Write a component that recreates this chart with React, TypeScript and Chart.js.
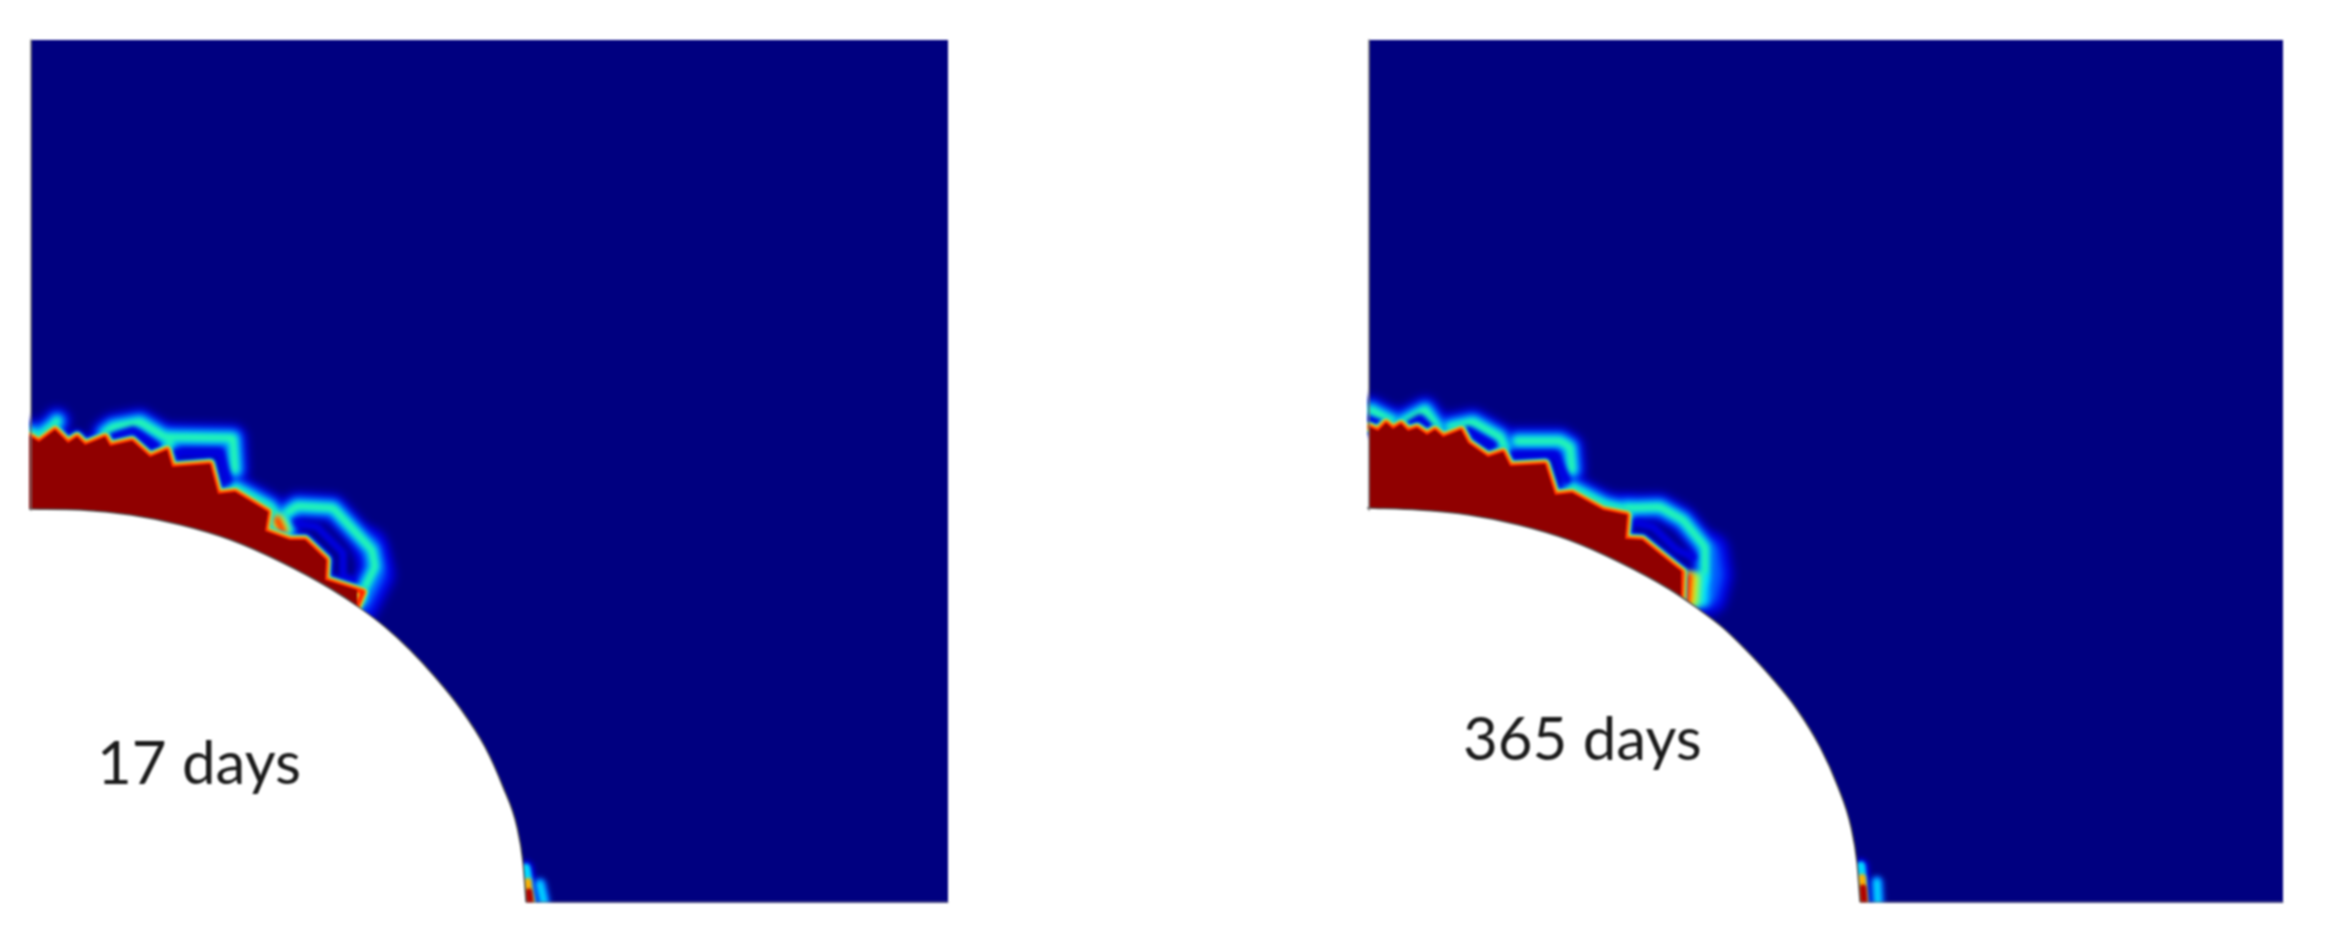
import React, { useEffect, useRef } from "react";
import { Chart, registerables } from "chart.js";

Chart.register(...registerables);

type Pt = [number, number];

const labelLeft = "17 days";
const labelRight = "365 days";

// ---------- 17 days: values (image units)
const field17: Pt[] = [[31, 40], [948, 40]];
const edgeLeft17: Pt[] = [[31, 40], [31, 510]];
const edgeBottom17: Pt[] = [[526, 902], [948, 902]];
const hole17: Pt[] = [[29, 509], [81, 510], [131, 515], [181, 525], [231, 540], [281, 562], [331, 589], [360, 608], [385, 627], [410, 650], [435, 677], [460, 708], [485, 747], [503, 787], [517, 827], [523, 863], [526, 902]];
const damage17: Pt[] = [[29, 436], [39, 442], [55, 430], [68, 443], [77, 437], [85, 445], [105, 437], [110, 446], [132, 441], [150, 457], [167, 450], [172, 467], [210, 464], [218, 494], [235, 492], [268, 512], [265, 531], [290, 540], [305, 540], [326, 560], [325, 580], [363, 592], [357, 606], [357, 640]];
const ribbons17: Pt[][] = [
  [[31, 433], [39, 437], [55, 424], [57, 421]],
  [[105, 433], [113, 427], [140, 422], [165, 437], [233, 438], [235, 470]],
  [[170, 441], [167, 450]],
  [[287, 513], [297, 506], [333, 508], [372, 550], [375, 567], [360, 597]],
  [[235, 488], [270, 507], [287, 530]],
];
const gaps17: Pt[][] = [
  [[112, 437], [133, 430], [157, 447]],
  [[175, 453], [220, 453], [228, 480]],
  [[295, 523], [317, 527], [343, 553], [343, 577], [352, 580]],
];
const halo17: Pt[][] = [[[370, 545], [378, 575], [362, 606]]];
const tip17: Pt[][] = [[[276, 517], [284, 534]], [[353, 597], [358, 605]]];
const cornerStrip17: Pt[] = [[526, 868], [532, 902]];
const cornerHot17: Pt[] = [[528, 882], [531, 902]];
const cornerCore17: Pt[] = [[529, 892], [530, 902]];
const cornerRibbon17: Pt[] = [[540, 884], [544, 902]];

// ---------- 365 days
const field365: Pt[] = [[1369, 40], [2283, 40]];
const edgeLeft365: Pt[] = [[1369, 40], [1369, 510]];
const edgeBottom365: Pt[] = [[1860, 902], [2283, 902]];
const hole365: Pt[] = [[1367, 508], [1419, 510], [1469, 515], [1519, 525], [1569, 540], [1619, 562], [1669, 589], [1697, 608], [1722, 627], [1746, 650], [1771, 677], [1796, 708], [1820, 747], [1838, 787], [1851, 827], [1857, 863], [1860, 902]];
const damage365: Pt[] = [[1369, 427], [1378, 431], [1386, 423], [1393, 429], [1401, 424], [1408, 431], [1417, 428], [1427, 435], [1435, 430], [1443, 437], [1461, 430], [1468, 443], [1488, 457], [1503, 452], [1510, 466], [1545, 464], [1555, 495], [1572, 493], [1603, 510], [1627, 515], [1625, 539], [1642, 540], [1673, 565], [1682, 572], [1681, 600], [1681, 640]];
const ribbons365: Pt[][] = [
  [[1371, 410], [1380, 415], [1392, 421]],
  [[1403, 422], [1425, 410], [1438, 428]],
  [[1450, 427], [1473, 422], [1500, 437], [1505, 448]],
  [[1517, 441], [1560, 441], [1570, 447], [1572, 470]],
  [[1628, 508], [1660, 507], [1683, 520], [1705, 547], [1705, 572], [1693, 597]],
  [[1572, 488], [1605, 505], [1627, 510]],
];
const gaps365: Pt[][] = [
  [[1369, 420], [1381, 424]],
  [[1410, 424], [1420, 418], [1430, 428]],
  [[1468, 430], [1493, 445]],
  [[1513, 455], [1555, 455], [1567, 480]],
  [[1637, 523], [1653, 527], [1677, 550], [1693, 557]],
];
const halo365: Pt[][] = [[[1712, 550], [1716, 575], [1710, 598], [1695, 600]]];
const tip365: Pt[][] = [[[1686, 573], [1684, 605]]];
const cornerStrip365: Pt[] = [[1861, 866], [1864, 902]];
const cornerHot365: Pt[] = [[1862, 878], [1864, 902]];
const cornerCore365: Pt[] = [[1863, 888], [1864, 902]];
const cornerRibbon365: Pt[] = [[1877, 882], [1878, 902]];

const NAVY = "#000080";
const DEEP_RED = "#900000";

interface PanelData {
  field: Pt[]; edgeLeft: Pt[]; edgeBottom: Pt[]; hole: Pt[]; damage: Pt[];
  ribbons: Pt[][]; gaps: Pt[][]; halo: Pt[][]; tip: Pt[][]; tipScale: number;
  strip: Pt[]; hot: Pt[]; core: Pt[]; cornerRibbon: Pt[];
  xMin: number; xMax: number; yMin: number; yMax: number;
}

const panel17: PanelData = {
  field: field17, edgeLeft: edgeLeft17, edgeBottom: edgeBottom17, hole: hole17, damage: damage17,
  ribbons: ribbons17, gaps: gaps17, halo: halo17, tip: tip17, tipScale: 0.45,
  strip: cornerStrip17, hot: cornerHot17, core: cornerCore17, cornerRibbon: cornerRibbon17,
  xMin: 29, xMax: 949, yMin: 38, yMax: 903,
};
const panel365: PanelData = {
  field: field365, edgeLeft: edgeLeft365, edgeBottom: edgeBottom365, hole: hole365, damage: damage365,
  ribbons: ribbons365, gaps: gaps365, halo: halo365, tip: tip365, tipScale: 1,
  strip: cornerStrip365, hot: cornerHot365, core: cornerCore365, cornerRibbon: cornerRibbon365,
  xMin: 1367, xMax: 2284, yMin: 38, yMax: 903,
};

const toPts = (p: Pt[]) => p.map(([x, y]) => ({ x, y }));

function buildDatasets(d: PanelData) {
  const out: any[] = [];
  const stroke = (p: Pt[], color: string, width: number, blur: number, cap = "round") =>
    out.push({ data: toPts(p), showLine: true, pointRadius: 0, borderColor: color, borderWidth: width, borderJoinStyle: "round", borderCapStyle: cap, fill: false, blur });
  const area = (p: Pt[], color: string, lineColor: string, width: number, smooth = false) =>
    out.push({ data: toPts(p), showLine: true, pointRadius: 0, borderColor: lineColor, borderWidth: width, backgroundColor: color, fill: { value: d.yMax + 5 }, ...(smooth ? { cubicInterpolationMode: "monotone" } : {}) });

  area(d.field, NAVY, NAVY, 0);
  // outer blue halo
  d.ribbons.forEach((r) => stroke(r, "#0000e8", 28, 4));
  d.halo.forEach((r) => stroke(r, "#0000e8", 34, 5));
  stroke(d.damage, "#0000e8", 16, 2.5);
  d.ribbons.forEach((r) => stroke(r, "#0070ff", 18, 3.5));
  d.halo.forEach((r) => stroke(r, "#0060ff", 14, 4));
  d.ribbons.forEach((r) => stroke(r, "#00d8f0", 11, 3));
  d.ribbons.forEach((r) => stroke(r, "#30ffa0", 5, 2.5));
  // inner blue gaps between ribbons and damage front
  d.gaps.forEach((g) => stroke(g, "#0000e0", 8, 2));
  // hot tips
  const s = d.tipScale;
  d.tip.forEach((t) => stroke(t, "#00e0ff", 48 * s, 3, "butt"));
  d.tip.forEach((t) => stroke(t, "#60ff80", 32 * s, 3, "butt"));
  d.tip.forEach((t) => stroke(t, "#ffd800", 22 * s, 3, "butt"));
  d.tip.forEach((t) => stroke(t, "#ff2000", 12 * s, 2.5, "butt"));
  // damage front
  stroke(d.damage, "#00c8f0", 11, 1.5);
  stroke(d.damage, "#90ff60", 8.5, 1.2);
  stroke(d.damage, "#ffc000", 7, 1);
  stroke(d.damage, "#ff2000", 4.5, 1);
  area(d.damage, DEEP_RED, DEEP_RED, 0);
  // corner at the hole's foot
  stroke(d.strip, "#0000f0", 15, 2.5);
  stroke(d.strip, "#00d8ff", 9, 1.5);
  stroke(d.hot, "#ffb000", 8, 1.5);
  stroke(d.core, "#b00000", 7, 1);
  stroke(d.cornerRibbon, "#0060ff", 13, 2.5);
  stroke(d.cornerRibbon, "#00e0ff", 6, 2);
  // hole, edges
  area(d.hole, "#ffffff", "#555555", 1.5, true);
  stroke(d.edgeLeft, "#777777", 1.5, 0);
  stroke(d.edgeBottom, "#888888", 1.2, 0);
  return out.map((ds, i) => ({ ...ds, order: out.length - i }));
}

const blurPlugin = {
  id: "bandBlur",
  beforeDatasetDraw(chart: any, args: any) {
    const b = chart.data.datasets[args.index].blur;
    chart.ctx.save();
    if (b) chart.ctx.filter = `blur(${b}px)`;
  },
  afterDatasetDraw(chart: any) {
    chart.ctx.restore();
  },
};

function Panel({ d }: { d: PanelData }) {
  const ref = useRef<HTMLCanvasElement>(null);
  useEffect(() => {
    const chart = new Chart(ref.current!, {
      type: "scatter",
      data: { datasets: buildDatasets(d) },
      options: {
        animation: false,
        responsive: false,
        devicePixelRatio: 1,
        layout: { padding: 0 },
        plugins: { legend: { display: false }, tooltip: { enabled: false }, title: { display: false } },
        scales: {
          x: { type: "linear", display: false, min: d.xMin, max: d.xMax },
          y: { type: "linear", display: false, reverse: true, min: d.yMin, max: d.yMax },
        },
      },
      plugins: [blurPlugin],
    } as any);
    return () => chart.destroy();
  }, [d]);
  return (
    <canvas
      ref={ref}
      width={d.xMax - d.xMin}
      height={d.yMax - d.yMin}
      style={{ position: "absolute", left: d.xMin, top: d.yMin, width: d.xMax - d.xMin, height: d.yMax - d.yMin, filter: "blur(0.9px)" }}
    />
  );
}

const textStyle: React.CSSProperties = {
  position: "absolute",
  fontFamily: "Lato, 'Open Sans', sans-serif",
  fontSize: 60,
  lineHeight: "60px",
  color: "#1a1a1a",
  whiteSpace: "nowrap",
  filter: "blur(0.8px)",
};

export default function App() {
  return (
    <div style={{ position: "absolute", left: 0, top: 0, width: 2330, height: 944, background: "#fff", overflow: "hidden" }}>
      <Panel d={panel17} />
      <Panel d={panel365} />
      <div style={{ ...textStyle, left: 97, top: 731 }}>{labelLeft}</div>
      <div style={{ ...textStyle, left: 1463, top: 707 }}>{labelRight}</div>
    </div>
  );
}
